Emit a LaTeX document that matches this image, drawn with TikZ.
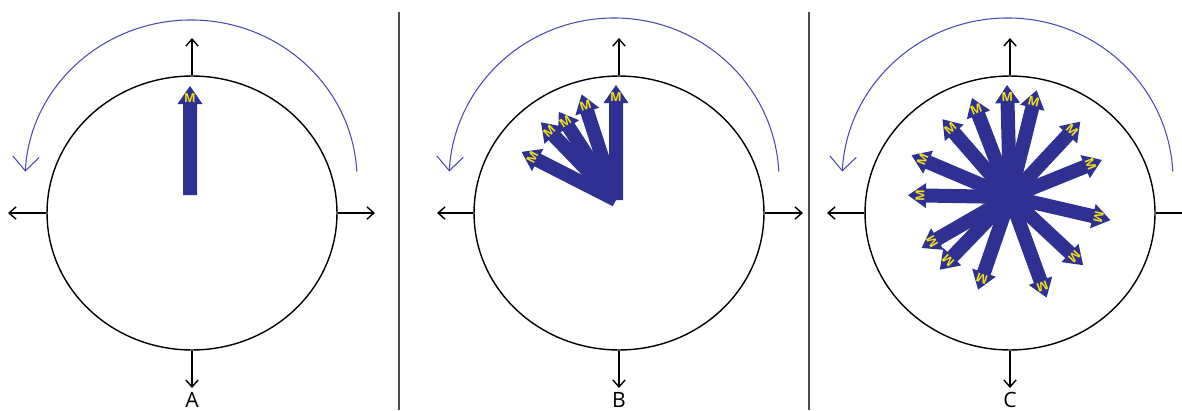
\documentclass[tikz,border=0pt]{standalone}
\usepackage{fontspec}
\setsansfont{Open Sans}
\usetikzlibrary{shapes.geometric, arrows.meta}
\definecolor{mag-blue}{HTML}{2E3192}
\definecolor{turn-blue}{HTML}{4A4AB2}
\definecolor{m-yellow}{HTML}{F2E01C}
\definecolor{sep-gray}{HTML}{4D4D4D}

\begin{document}
\begin{tikzpicture}[x=0.02cm, y=0.02cm, every node/.style={font=\sffamily},
    ring/.style={draw, ellipse, line width=0.8pt, minimum width=5.8cm,
      minimum height=5.48cm, inner sep=0pt},
    axisline/.style={line width=0.8pt, -{Straight Barb[length=4pt, width=7pt]}},
    turn/.style={draw=turn-blue, line width=0.6pt,
      -{Straight Barb[length=8pt, width=15pt]}},
    mlabel/.style={text=m-yellow, font=\sffamily\bfseries\fontsize{7}{7}\selectfont,
      inner sep=0pt},
    tag/.style={font=\sffamily\fontsize{12}{14}\selectfont, anchor=base,
      inner sep=0pt}]
    \clip (0,0) rectangle (1182,410);
    % separators
    \draw[sep-gray, line width=0.7pt] (399,0) -- (399,398);
    \draw[sep-gray, line width=0.7pt] (809,0) -- (809,398);

    % panel A
    \node[ring] (cA) at (192,197) {};
    \coordinate (nA) at (192,372);
    \coordinate (sA) at (192,22);
    \coordinate (wA) at (8,197);
    \coordinate (eA) at (375,197);
    \draw[axisline] (cA.north) -- (nA);
    \draw[axisline] (cA.south) -- (sA);
    \draw[axisline] (cA.west) -- (wA);
    \draw[axisline] (cA.east) -- (eA);
    \coordinate (aA) at (356.8,238.4);
    \draw[turn] (aA) arc[start angle=3, end angle=177, x radius=166, y radius=160];
    \coordinate (bA) at (190,215);
    \foreach \a/\l [count=\i] in {90/109}{
      \begin{scope}[shift={(bA)}, rotate=\a-90]
        \fill[mag-blue] (-7,0) -- (-7,{\l-18}) -- (-12.5,{\l-18}) -- (0,\l)
          -- (12.5,{\l-18}) -- (7,{\l-18}) -- (7,0) -- cycle;
        \node[mlabel, rotate=\a-90] (mA\i) at (0,{\l-12}) {M};
      \end{scope}
    }
    \node[tag] (lA) at (192,3) {A};

    % panel B
    \node[ring] (cB) at (619,197) {};
    \coordinate (nB) at (619,372);
    \coordinate (sB) at (619,22);
    \coordinate (wB) at (437,197);
    \coordinate (eB) at (803,197);
    \draw[axisline] (cB.north) -- (nB);
    \draw[axisline] (cB.south) -- (sB);
    \draw[axisline] (cB.west) -- (wB);
    \draw[axisline] (cB.east) -- (eB);
    \coordinate (aB) at (778.8,238.5);
    \draw[turn] (aB) arc[start angle=3, end angle=177, x radius=165, y radius=162];
    \coordinate (bB) at (616,210);
    \foreach \a/\l [count=\i] in {90/115, 108/111, 123/105, 134/108, 153/106}{
      \begin{scope}[shift={(bB)}, rotate=\a-90]
        \fill[mag-blue] (-7,0) -- (-7,{\l-18}) -- (-12.5,{\l-18}) -- (0,\l)
          -- (12.5,{\l-18}) -- (7,{\l-18}) -- (7,0) -- cycle;
        \node[mlabel, rotate=\a-90] (mB\i) at (0,{\l-12}) {M};
      \end{scope}
    }
    \node[tag] (lB) at (619,3) {B};

    % panel C
    \node[ring] (cC) at (1010,197) {};
    \coordinate (nC) at (1010,372);
    \coordinate (sC) at (1010,22);
    \coordinate (wC) at (827,197);
    \coordinate (eC) at (1195,197);
    \draw[axisline] (cC.north) -- (nC);
    \draw[axisline] (cC.south) -- (sC);
    \draw[axisline] (cC.west) -- (wC);
    \draw[axisline] (cC.east) -- (eC);
    \coordinate (aC) at (1172.8,238.5);
    \draw[turn] (aC) arc[start angle=3, end angle=177, x radius=165.5, y radius=162];
    \coordinate (bC) at (1010,213);
    \foreach \a/\l [count=\i] in {91.5/112, 76/110, 47/103, 22/99, -13/103,
        -43/100, -70/107, -109/98, -134/101, -150/102, 179/102, 157/107,
        131/103, 111/106}{
      \begin{scope}[shift={(bC)}, rotate=\a-90]
        \fill[mag-blue] (-7,0) -- (-7,{\l-18}) -- (-12.5,{\l-18}) -- (0,\l)
          -- (12.5,{\l-18}) -- (7,{\l-18}) -- (7,0) -- cycle;
        \node[mlabel, rotate=\a-90] (mC\i) at (0,{\l-12}) {M};
      \end{scope}
    }
    \node[tag] (lC) at (1010,3) {C};
  \end{tikzpicture}
\end{document}
